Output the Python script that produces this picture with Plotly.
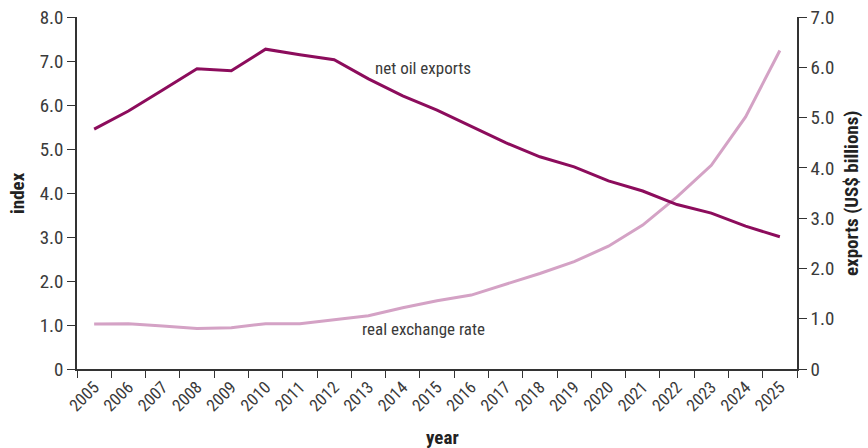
import plotly.graph_objects as go

years = [str(y) for y in range(2005, 2026)]
net_oil_exports = [4.77, 5.13, 5.55, 5.97, 5.93, 6.36, 6.25, 6.15, 5.77, 5.43, 5.15,
                   4.82, 4.50, 4.22, 4.02, 3.74, 3.54, 3.27, 3.10, 2.84, 2.63]
real_exchange_rate = [1.02, 1.03, 0.98, 0.92, 0.94, 1.03, 1.03, 1.12, 1.21, 1.39, 1.55,
                      1.68, 1.93, 2.17, 2.44, 2.79, 3.27, 3.91, 4.63, 5.73, 7.24]
left_ticks = [0, 1, 2, 3, 4, 5, 6, 7, 8]
left_ticktext = ["0", "1.0", "2.0", "3.0", "4.0", "5.0", "6.0", "7.0", "8.0"]
right_ticks = [0, 1, 2, 3, 4, 5, 6, 7]
right_ticktext = ["0", "1.0", "2.0", "3.0", "4.0", "5.0", "6.0", "7.0"]

FONT = "Liberation Sans Narrow, Roboto Condensed, DejaVu Sans Condensed, sans-serif"
TXT = "#3a3a3a"
AX = "#333333"
TITLE = "#222222"

fig = go.Figure()
fig.add_trace(go.Scatter(x=years, y=real_exchange_rate, mode="lines", yaxis="y",
                         line=dict(color="#d4a2c5", width=3), name="real exchange rate"))
fig.add_trace(go.Scatter(x=years, y=net_oil_exports, mode="lines", yaxis="y2",
                         line=dict(color="#8c0c5c", width=3), name="net oil exports"))

fig.update_layout(
    width=868, height=448,
    margin=dict(l=77, r=71, t=17, b=79, autoexpand=False),
    paper_bgcolor="white", plot_bgcolor="white",
    showlegend=False,
    font=dict(family=FONT, size=16, color=TXT),
    xaxis=dict(type="category", range=[-0.5, 20.5], tickson="boundaries",
               ticks="outside", ticklen=7, automargin=False,
               tickcolor=AX, showline=True, linecolor=AX, linewidth=1.5,
               showgrid=False, tickangle=-45, tickfont=dict(size=17, color=TXT)),
    yaxis=dict(range=[0, 8], tickvals=left_ticks, ticktext=left_ticktext, automargin=False,
               ticks="outside", ticklen=8, tickcolor=AX, showline=True, linecolor=AX,
               linewidth=1.5, showgrid=False, zeroline=False, ticklabeloverflow="allow",
               tickfont=dict(size=19, color=TXT)),
    yaxis2=dict(range=[0, 7], tickvals=right_ticks, ticktext=right_ticktext,
                overlaying="y", side="right", automargin=False,
                ticks="outside", ticklen=8, tickcolor=AX, showline=True, linecolor=AX,
                linewidth=1.5, showgrid=False, zeroline=False, ticklabeloverflow="allow",
                tickfont=dict(size=19, color=TXT)),
    annotations=[
        dict(text="net oil exports", x=9.6, y=6.83, xref="x", yref="y",
             showarrow=False, font=dict(size=17, color=TXT)),
        dict(text="real exchange rate", x=9.6, y=0.91, xref="x", yref="y",
             showarrow=False, font=dict(size=17, color=TXT)),
        dict(text="<b>index</b>", x=0, y=0.5, xref="paper", yref="paper", xshift=-60,
             xanchor="center", yanchor="middle", borderpad=0,
             textangle=-90, showarrow=False, font=dict(size=19, color=TITLE)),
        dict(text="<b>exports (US$ billions)</b>", x=1, y=0.5, xref="paper", yref="paper",
             xshift=54, xanchor="center", yanchor="middle",
             textangle=-90, showarrow=False, font=dict(size=19, color=TITLE)),
        dict(text="<b>year</b>", x=0.5, y=0, xref="paper", yref="paper", xshift=5,
             yshift=-68, xanchor="center", yanchor="middle",
             showarrow=False, font=dict(size=19, color=TITLE)),
    ],
)

fig.write_html("out.html", config={"displayModeBar": False},
               post_script="document.body.style.margin='0';")
